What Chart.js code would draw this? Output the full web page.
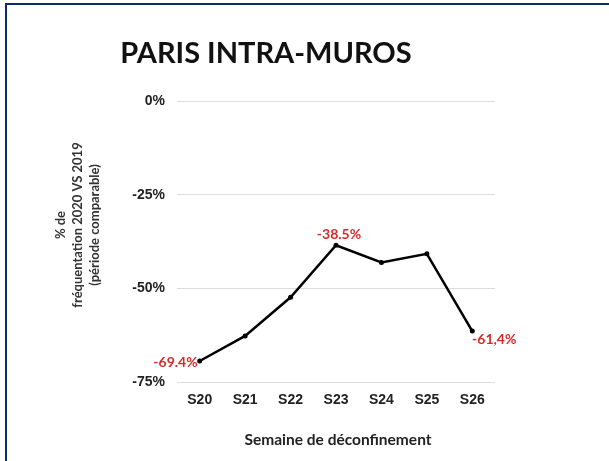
<!DOCTYPE html>
<html>
<head>
<meta charset="utf-8">
<script src="https://cdn.jsdelivr.net/npm/chart.js@4/dist/chart.umd.min.js"></script>
<style>
  html, body { margin: 0; padding: 0; background: #fff; }
  #wrap { position: relative; width: 609px; height: 461px; overflow: hidden; }
  #c { position: absolute; left: 0; top: 0; }
  .bt { position: absolute; left: 6px; top: 3px; width: 603px; height: 2px; background: #0f2a6b; }
  .bl { position: absolute; left: 5px; top: 3px; width: 2px; height: 458px; background: #0f2a6b; }
</style>
</head>
<body>
<div id="wrap">
  <canvas id="c" width="609" height="461"></canvas>
  <div class="bt"></div>
  <div class="bl"></div>
</div>
<script>
const titleText = "PARIS INTRA-MUROS";
const categories = ["S20", "S21", "S22", "S23", "S24", "S25", "S26"];
const frequentation = [-69.4, -62.7, -52.4, -38.5, -43.1, -40.8, -61.4];
const yTicks = [0, -25, -50, -75];
const yTitleLines = ["% de", "fréquentation 2020 VS 2019", "(période comparable)"];
const xTitle = "Semaine de déconfinement";
const pointLabels = ["-69.4%", null, null, "-38.5%", null, null, "-61,4%"];

const labelPos = [
  {dx: -2, dy: 1, align: "right"},
  null, null,
  {dx: 3, dy: -11, align: "center"},
  null, null,
  {dx: 22, dy: 8, align: "center"}
];

const overlay = {
  id: "overlay",
  afterDraw(chart) {
    const ctx = chart.ctx;
    ctx.save();
    // Title
    ctx.fillStyle = "#111";
    ctx.font = "bold 29px Lato";
    ctx.textAlign = "center";
    ctx.textBaseline = "middle";
    ctx.fillText(titleText, 266, 54);
    // X title
    ctx.font = "bold 15.5px Lato";
    ctx.fillStyle = "#222";
    ctx.fillText(xTitle, 338, 440);
    // Y title
    ctx.save();
    ctx.translate(78, 225);
    ctx.rotate(-Math.PI / 2);
    ctx.font = "bold 13px Lato";
    ctx.fillStyle = "#333";
    yTitleLines.forEach((l, i) => ctx.fillText(l, 0, (i - 1) * 17));
    ctx.restore();
    // Point labels
    const meta = chart.getDatasetMeta(0);
    ctx.font = "bold 14px Lato";
    ctx.fillStyle = "#d62a2a";
    ctx.textBaseline = "middle";
    meta.data.forEach((pt, i) => {
      if (!pointLabels[i]) return;
      const p = labelPos[i];
      ctx.textAlign = p.align;
      ctx.fillText(pointLabels[i], pt.x + p.dx, pt.y + p.dy);
    });
    ctx.restore();
  }
};

new Chart(document.getElementById("c"), {
  type: "line",
  data: {
    labels: categories,
    datasets: [{
      data: frequentation,
      borderColor: "#000",
      backgroundColor: "#000",
      borderWidth: 2.5,
      pointRadius: 2.5,
      pointBackgroundColor: "#000",
      pointBorderWidth: 0,
      tension: 0
    }]
  },
  options: {
    responsive: false,
    animation: false,
    devicePixelRatio: 1,
    layout: { padding: { left: 0, right: 114, top: 101, bottom: 0 } },
    plugins: { legend: { display: false }, tooltip: { enabled: false } },
    scales: {
      x: {
        offset: true,
        grid: { display: false, drawTicks: false },
        border: { display: false },
        ticks: {
          padding: 10,
          color: "#222",
          font: { family: "Liberation Sans", weight: "bold", size: 14 }
        },
        afterFit(s) { s.height = 79; }
      },
      y: {
        min: -75,
        max: 0,
        afterBuildTicks(s) { s.ticks = yTicks.map(v => ({ value: v })); },
        grid: { color: "#dddddd", lineWidth: 1, drawTicks: false },
        border: { display: false },
        ticks: {
          padding: 12,
          color: "#222",
          font: { family: "Liberation Sans", weight: "bold", size: 14 },
          callback: v => v + "%"
        },
        afterFit(s) { s.width = 177; }
      }
    }
  },
  plugins: [overlay]
});
</script>
</body>
</html>
